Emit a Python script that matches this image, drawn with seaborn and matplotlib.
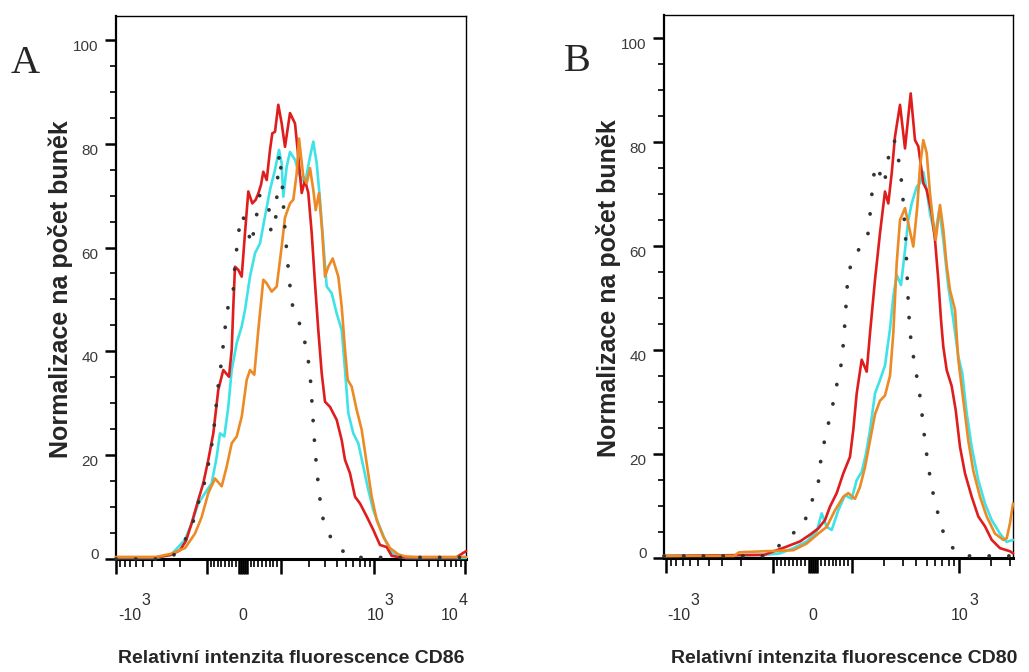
import numpy as np
import pandas as pd
import matplotlib
matplotlib.use("Agg")
import matplotlib.pyplot as plt
import matplotlib.transforms as mtransforms
import seaborn as sns

# ---------------- data (x = display channel across the axis, y = % of max) ----------------
# Panel A : CD86
A_red_x = [0, 40, 55, 64, 70, 75.7, 82.3, 87.3, 92.3, 97.3, 102.3, 107.3, 113, 115.7, 117.3, 119, 122.3,
           125.7, 129, 132.3, 136.3, 139.7, 142.3, 145, 147.3, 150.7, 154, 156.3, 159, 162.3, 165.7, 169,
           174, 179, 182.3, 185.7, 189, 192.3, 195.7, 199, 202.3, 205.7, 209, 214, 220.7, 225.7, 229, 234,
           239, 244, 250.7, 257.3, 264, 270.7, 275.7, 285, 340, 350]
A_red_y = [0.3, 0.3, 0.8, 1.7, 3.5, 6.9, 11.4, 14.6, 19.1, 24.2, 32.6, 36.4, 35.1, 40.3, 48.6, 56.3, 55.7,
           54.4, 62.8, 70.8, 68.5, 69.2, 70.4, 72.1, 74.6, 73.0, 78.8, 82.0, 82.3, 87.5, 83.9, 79.4,
           85.9, 83.9, 77.5, 70.5, 73.0, 70.5, 62.8, 53.1, 44.1, 35.8, 30.3, 29.3, 26.8, 22.9, 19.1, 16.5,
           12.0, 10.7, 8.2, 5.6, 2.7, 2.3, 0.6, 0.3, 0.3, 1.5]

A_cyan_x = [0, 40, 55, 69, 75.7, 82.3, 89, 95.7, 100.7, 104, 108.3, 112.3, 115.7, 120.7, 125.7, 129, 134,
            139, 144, 149, 154, 159, 163, 165.7, 167.3, 170.7, 174, 179, 184, 189, 194, 197.3, 200.7, 204,
            207.3, 210.7, 215.7, 220.7, 225.7, 229, 232.3, 237.3, 242.3, 247.3, 252.3, 257.3, 262.3, 269,
            275.7, 282.3, 290, 350]
A_cyan_y = [0.2, 0.2, 0.8, 3.7, 6.9, 10.7, 12.7, 14.6, 19.7, 24.2, 23.6, 29.3, 36.4, 41.6, 44.8, 48.0, 54.4,
            58.9, 60.8, 66.0, 71.1, 75.0, 78.8, 76.2, 69.8, 75.6, 78.4, 76.9, 73.7, 72.4, 77.5, 80.4, 76.2, 69.2,
            60.8, 52.5, 51.2, 47.3, 44.1, 36.4, 28.1, 24.2, 22.3, 17.8, 13.3, 9.4, 6.9, 3.7,
            1.2, 0.5, 0.2, 0.2]

A_orange_x = [0, 40, 55, 69, 79, 85.7, 92.3, 99, 105.7, 110.7, 115.7, 120.7, 125.7, 130.7, 134, 138.3, 142.3,
              147.3, 150.7, 155.7, 160.7, 165.7, 169, 174, 177.3, 180.7, 183, 187.3, 190.7, 194, 197.3, 199.7,
              203, 206.3, 209, 212.3, 216.7, 222.3, 225.7, 229, 231.7, 235.7, 240.7, 245.7, 250.7, 255.7,
              260.7, 267.3, 274, 282.3, 289, 300, 350]
A_orange_y = [0.4, 0.4, 1.0, 2.1, 4.9, 8.1, 12.7, 15.5, 14.0, 17.8, 22.3, 23.6, 27.4, 34.5, 36.4, 35.5, 44.1,
              53.8, 53.1, 51.5, 52.5, 60.2, 65.8, 68.5, 69.2, 74.3, 81.0, 73.7, 72.4, 75.3, 71.1, 67.2,
              70.5, 62.8, 54.4, 56.3, 57.9, 54.4, 48.6, 40.3, 34.5, 33.2, 28.7, 24.9, 18.4, 12.0,
              7.5, 4.3, 2.1, 0.9, 0.5, 0.4, 0.4]

A_iso_x = [0, 50, 57, 64, 75, 81.3, 88.3, 93.3, 97.3, 99.7, 102.3, 105.7, 108.3, 111.3, 117.3, 119, 121.7, 125,
           130.5, 135, 140, 143, 148, 152.7, 155, 159, 160.5, 161.5, 163.3, 166, 167.3, 169, 171, 173.3, 176.5,
           184, 190.5, 194, 195.7, 197.3, 199, 201.3, 204, 208, 218, 230.7, 240, 350]
A_iso_y = [0, 0, 0.6, 2.1, 5.6, 10.2, 14.6, 19.1, 23.9, 28.7, 33.5, 38.4, 43.2, 48.0, 51.9, 56.7, 61.5, 66.3,
           64.9, 60.5, 65.2, 70.0, 70.0, 67.9, 63.0, 63.5, 68.2, 73.0, 78.2, 73.2, 68.5, 63.4, 58.6, 53.6, 48.9,
           45.1, 40.6, 35.9, 30.9, 26.1, 21.1, 16.2, 11.5, 6.6, 3.0, 0.9, 0.3, 0.3]

# Panel B : CD80
B_red_x = [0, 100, 122.7, 136, 146, 154.3, 161, 166, 172.7, 179.3, 186, 189.3, 192.7, 197.7, 202.7, 206, 211,
           216, 221, 224.3, 227.7, 231, 236, 241, 246.7, 251, 254.3, 259.3, 262.7, 267.7, 271, 274.3, 277,
           279.3, 282.7, 287.7, 291.7, 296, 301, 307.7, 314.3, 321, 327.7, 336, 346, 349]
B_red_y = [0.3, 0.5, 2.1, 3.1, 4.4, 5.6, 7.2, 9.8, 12.4, 16.2, 19.4, 24.6, 31.6, 38.1, 35.8, 43.2, 53.5,
           62.5, 70.5, 68.2, 74.0, 81.1, 87.2, 78.8, 89.4, 80.4, 79.2, 72.1, 70.8, 66.3, 61.2, 53.5, 45.8,
           40.6, 36.1, 33.0, 28.4, 21.3, 16.2, 11.7, 7.9, 6.0, 3.4, 1.8, 1.2, 0.8]

B_cyan_x = [0, 100, 116, 129.3, 142.7, 152.7, 157.7, 162.7, 167.7, 174.3, 181, 187.7, 192.7, 197.7, 202, 206,
            211, 216, 221, 226, 229.3, 232.7, 237, 241, 244.3, 247.7, 252.7, 256, 259.3, 262.7, 266, 271,
            275.3, 279.3, 284.3, 289.3, 294.3, 298.3, 302.7, 307.7, 314.3, 321, 327.7, 336, 342.7, 349]
B_cyan_y = [0.3, 0.5, 0.8, 1.8, 3.1, 5.0, 8.5, 5.9, 5.3, 9.1, 12.0, 11.3, 14.9, 16.5, 20.0, 24.5,
            31.6, 34.2, 37.0, 44.0, 50.3, 54.4, 52.5, 59.2, 65.0, 68.2, 71.4, 72.1, 74.3, 70.8, 66.3, 62.0,
            67.0, 61.2, 52.2, 45.8, 38.7, 35.5, 27.8, 21.3, 14.9, 10.4, 7.2, 4.6, 3.0, 3.4]

B_orange_x = [0, 70, 75, 100, 129.3, 142.7, 154.3, 162.7, 171, 179.3, 184.3, 191, 196, 201, 206, 211, 216,
              221, 226, 229.3, 232.7, 236, 241, 245, 249.3, 253.3, 256, 259.3, 262.7, 266, 269.3, 271.7, 276,
              279.3, 282.7, 286, 291, 294.3, 299.3, 304.3, 309.3, 316, 322.7, 331, 339.3, 342.7, 346, 349]
B_orange_y = [0.3, 0.3, 1.0, 1.2, 1.4, 2.7, 4.6, 5.9, 9.1, 11.7, 12.4, 11.3, 13.6, 17.4, 22.5, 27.6, 30.2,
              31.2, 35.0, 43.2, 56.7, 65.0, 67.3, 63.7, 59.9, 67.6, 75.3, 80.4, 77.9, 70.1, 64.4, 61.2, 67.9,
              63.2, 56.2, 51.5, 47.7, 38.1, 30.3, 22.5, 16.7, 11.7, 7.9, 4.6, 3.4, 3.7, 6.6, 10.4]

B_iso_x = [0, 100, 113, 126, 138.7, 146.7, 154.3, 157, 162, 167.7, 172.7, 177.7, 180, 181.7, 183.3, 187, 195,
           203.3, 206, 208.3, 211, 216, 220.3, 223.7, 230.3, 235.3, 238.3, 240, 241.7, 242.7, 243.7, 245, 247,
           251, 255.3, 258.3, 261, 264.3, 268.7, 274.3, 281, 292, 300, 349]
B_iso_y = [0.3, 0.3, 1.9, 4.3, 5.9, 10.2, 14.4, 19.1, 23.9, 28.4, 33.2, 37.7, 42.7, 47.6, 52.5, 56.8, 59.4,
           61.2, 66.0, 70.9, 75.6, 73.9, 71.8, 76.6, 80.4, 75.9, 71.1, 66.0, 61.2, 56.4, 51.5, 46.4, 41.6,
           36.8, 32.1, 27.1, 22.3, 17.5, 12.7, 8.2, 3.7, 1.1, 0.3, 0.3]

# axis decoration: fluorescence value -> channel anchors of the biexponential display
A_anchor_vals = [-10000, -1000, -100, 0, 100, 1000, 10000]
A_anchor_ch = [-91, 0, 91, 127, 165, 258, 349]
B_anchor_vals = [-10000, -1000, -100, 0, 100, 1000, 10000]
B_anchor_ch = [-105, 2, 109, 149, 188, 295, 402]

y_ticks = [0, 20, 40, 60, 80, 100]
y_label = "Normalizace na počet buněk"
A_xlabel = "Relativní intenzita fluorescence CD86"
B_xlabel = "Relativní intenzita fluorescence CD80"

# x tick labels: (value, base, exponent)
A_xtick_labels = [(-1000, "-10", "3"), (0, "0", None), (1000, "10", "3"), (10000, "10", "4")]
B_xtick_labels = [(-1000, "-10", "3"), (0, "0", None), (1000, "10", "3")]

COL = {"red": "#df1d1d", "cyan": "#3fe2e6", "orange": "#ec8a26", "iso": "#333333"}

sns.set_style("ticks")
plt.rcParams["font.family"] = ["Liberation Sans", "DejaVu Sans"]

fig = plt.figure(figsize=(10.29, 6.72), dpi=100)
fig.patch.set_facecolor("white")
axA = fig.add_axes([116 / 1029, 1 - 559 / 672, 350 / 1029, 543 / 672])
axB = fig.add_axes([664 / 1029, 1 - 557.5 / 672, 349 / 1029, 543 / 672])


def mapper(vals, chs):
    a = dict(zip(vals, chs))

    def f(v):
        if -100 <= v <= 100:
            if v >= 0:
                return a[0] + (a[100] - a[0]) * v / 100
            return a[0] + (a[0] - a[-100]) * v / 100
        s = 1 if v > 0 else -1
        lv = np.log10(abs(v))
        d = int(np.floor(lv + 1e-9))
        fr = lv - d
        lo = a[s * 10 ** d]
        hi = a[s * 10 ** (d + 1)] if fr > 1e-9 else lo
        return lo + (hi - lo) * fr
    return f


def draw_panel(ax, series, anchors, xmax, xlabel, xtick_labels, label_offsets, yb):
    df = pd.concat([pd.DataFrame({"ch": x, "pct": y, "s": k}) for k, (x, y) in series.items()])
    for key, lw, z in [("cyan", 1.9, 3), ("red", 1.9, 4), ("orange", 1.9, 5)]:
        sub = df[df.s == key]
        sns.lineplot(data=sub, x="ch", y="pct", ax=ax, color=COL[key], lw=lw,
                     estimator=None, sort=False, zorder=z, clip_on=False)
    sub = df[df.s == "iso"]
    sns.lineplot(data=sub, x="ch", y="pct", ax=ax, color=COL["iso"], lw=2.7,
                 estimator=None, sort=False, zorder=6, clip_on=False)
    ax.lines[-1].set_linestyle((0, (0.05, 5.2)))
    ax.lines[-1].set_dash_capstyle("round")

    ax.set_xlim(0, xmax)
    ax.set_ylim(0, 104.6)
    f = mapper(*anchors)

    major_vals = [-1000, -100, -10, -5, 0, 5, 10, 100, 1000, 10000]
    major = [f(v) for v in major_vals if -0.5 <= f(v) <= xmax + 0.5]
    minor_vals = []
    for d in (1, 2, 3):
        for k in range(2, 10):
            minor_vals += [k * 10 ** d, -k * 10 ** d]
    minor = [f(v) for v in minor_vals if 0 < f(v) < xmax]
    ax.set_xticks(major)
    ax.set_xticks(minor, minor=True)
    ax.set_yticks(y_ticks)
    ax.set_yticks(np.arange(0, 105, 5), minor=True)

    ax.tick_params(axis="x", which="major", length=11, width=1.8, direction="out",
                   labelbottom=False, color="black")
    ax.tick_params(axis="x", which="minor", length=6, width=1.2, direction="out", color="black")
    ax.tick_params(axis="y", which="major", length=8, width=1.8, direction="out",
                   labelsize=11, labelcolor="#3a3a3a", pad=4.5, color="black")
    ax.tick_params(axis="y", which="minor", length=4.3, width=1.2, direction="out", color="black")
    for lab in ax.get_yticklabels():
        lab.set_verticalalignment("baseline" if lab.get_text() == "0" else "top")

    for sp, lw in [("left", 1.6), ("bottom", 2.2), ("top", 1.0), ("right", 1.0)]:
        ax.spines[sp].set_visible(True)
        ax.spines[sp].set_linewidth(lw)
        ax.spines[sp].set_color("black")
        ax.spines[sp].set_zorder(2)

    trans = mtransforms.blended_transform_factory(ax.transData, ax.transAxes)
    for (v, base, exp), off in zip(xtick_labels, label_offsets):
        xpos = f(v) + off
        if exp is None:
            ax.text(xpos, yb, base, transform=trans, ha="center", va="baseline",
                    fontsize=11.5, color="#2e2e2e")
        else:
            ax.text(xpos, yb, base, transform=trans, ha="right", va="baseline",
                    fontsize=11.5, color="#2e2e2e")
            ax.text(xpos, yb + 0.0276, exp, transform=trans, ha="left", va="baseline",
                    fontsize=11.5, color="#2e2e2e")

    ax.set_xlabel(xlabel, fontsize=14, fontweight="bold", va="baseline")
    ax.set_ylabel(y_label, fontsize=18, fontweight="bold", va="bottom")
    ax.set_facecolor("white")


draw_panel(axA,
           {"red": (A_red_x, A_red_y), "cyan": (A_cyan_x, A_cyan_y),
            "orange": (A_orange_x, A_orange_y), "iso": (A_iso_x, A_iso_y)},
           (A_anchor_vals, A_anchor_ch), 350, A_xlabel, A_xtick_labels,
           [25.7, 0, 10.5, -6.8], -0.1123)
axA.xaxis.set_label_coords(0.5, -0.1915)
axA.yaxis.set_label_coords(-0.124, 0.497)

draw_panel(axB,
           {"red": (B_red_x, B_red_y), "cyan": (B_cyan_x, B_cyan_y),
            "orange": (B_orange_x, B_orange_y), "iso": (B_iso_x, B_iso_y)},
           (B_anchor_vals, B_anchor_ch), 349, B_xlabel, B_xtick_labels,
           [24, 0, 10], -0.1151)
axB.xaxis.set_label_coords(0.516, -0.1942)
axB.yaxis.set_label_coords(-0.124, 0.497)

fig.text(25 / 1029, 1 - 73 / 672, "A", family="Liberation Serif", fontsize=29,
         ha="center", va="baseline")
fig.text(577 / 1029, 1 - 71 / 672, "B", family="Liberation Serif", fontsize=29,
         ha="center", va="baseline")

fig.savefig("out.png", dpi=100, facecolor="white")
